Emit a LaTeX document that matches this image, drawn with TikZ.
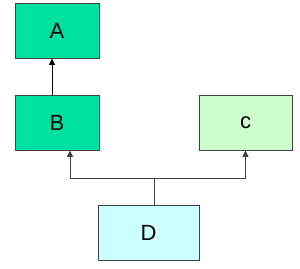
\documentclass[tikz,border=0pt]{standalone}
\usepackage{fontspec}
\setmainfont{Liberation Sans}
\usetikzlibrary{arrows.meta}
\definecolor{edge}{HTML}{404040}
\definecolor{teal}{HTML}{00E0A0}
\definecolor{mint}{HTML}{CCFFCC}
\definecolor{ice}{HTML}{CCFFFF}

\begin{document}
\begin{tikzpicture}[
    x=1pt, y=-1pt,
    font=\fontsize{22}{26}\selectfont,
    box/.style={draw=edge, line width=0.9pt, minimum height=55pt, inner sep=0pt},
    ar/.style={-{Triangle[length=6.5pt, width=6pt]}, black, line width=0.9pt}
  ]
    \useasboundingbox (0,0) rectangle (300,268);
    \node[box, fill=teal, minimum width=84pt] (A) at (57,30.5) {A};
    \node[box, fill=teal, minimum width=84pt] (B) at (57,122.5) {B};
    \node[box, fill=mint, minimum width=93pt] (C) at (245.5,122.5) {c};
    \node[box, fill=ice, minimum width=101pt] (D) at (148.5,232.5) {D};
    \coordinate (jn) at (154,178);
    \draw[ar] ([xshift=-5pt]B.north) -- ([xshift=-5pt]A.south);
    \draw[ar, edge] ([xshift=5.5pt]D.north) -- (jn) -| ([xshift=13pt]B.south);
    \draw[ar, edge] (jn) -| (C.south);
  \end{tikzpicture}
\end{document}
